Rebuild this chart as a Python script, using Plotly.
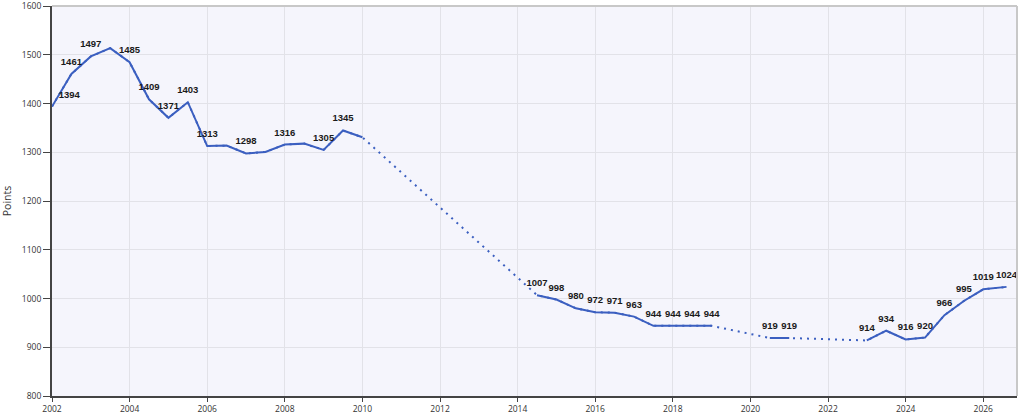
import plotly.graph_objects as go

# --- data (half-year steps, None = no value) ---
years = [2002, 2002.5, 2003, 2003.5, 2004, 2004.5, 2005, 2005.5, 2006, 2006.5,
         2007, 2007.5, 2008, 2008.5, 2009, 2009.5, 2010,
         2010.5, 2011, 2011.5, 2012, 2012.5, 2013, 2013.5, 2014,
         2014.5, 2015, 2015.5, 2016, 2016.5, 2017, 2017.5, 2018, 2018.5, 2019,
         2019.5, 2020,
         2020.5, 2021,
         2021.5, 2022, 2022.5,
         2023, 2023.5, 2024, 2024.5, 2025, 2025.5, 2026, 2026.6]
points = [1394, 1461, 1497, 1514, 1485, 1409, 1371, 1403, 1313, 1314,
          1298, 1301, 1316, 1318, 1305, 1345, 1331,
          None, None, None, None, None, None, None, None,
          1007, 998, 980, 972, 971, 963, 944, 944, 944, 944,
          None, None,
          919, 919,
          None, None, None,
          914, 934, 916, 920, 966, 995, 1019, 1024]
# points whose value label is not shown in the reference
unlabelled = [2003.5, 2006.5, 2007.5, 2008.5, 2010]

tick_years = list(range(2002, 2027, 2))
y_ticks = [800, 900, 1000, 1100, 1200, 1300, 1400, 1500, 1600]

LINE = "#3b5fc0"

labels = []
for yr, v in zip(years, points):
    if v is None or yr in unlabelled:
        labels.append("")
    else:
        labels.append(str(v))
positions = ["top right" if i == 0 else "top center" for i in range(len(years))]

fig = go.Figure()

# dotted bridge over the missing stretches
fig.add_trace(go.Scatter(x=years, y=points, mode="lines", connectgaps=True,
                         line=dict(color=LINE, width=2, dash="2px,5px"),
                         hoverinfo="skip"))
# solid line where there is data (invisible markers only push the labels up)
fig.add_trace(go.Scatter(x=years, y=points, mode="lines+markers+text", connectgaps=False,
                         line=dict(color=LINE, width=2),
                         marker=dict(size=9, opacity=0, color=LINE),
                         text=labels, textposition=positions, cliponaxis=False,
                         textfont=dict(family="Liberation Sans, Arial, sans-serif",
                                       size=9.5, color="#1a1a1a", weight="bold")))

fig.update_layout(
    width=1024, height=416,
    margin=dict(l=52, r=7, t=6, b=20),
    plot_bgcolor="#f5f5fc",
    paper_bgcolor="white",
    showlegend=False,
    font=dict(family="Open Sans, DejaVu Sans, sans-serif", size=8.5, color="#333"),
)

fig.update_xaxes(range=[2002, 2026.87], tickvals=tick_years, ticktext=[str(t) for t in tick_years],
                 showgrid=True, gridcolor="#e2e2e8", gridwidth=1, automargin=False,
                 showline=True, linecolor="#444", linewidth=2,
                 ticks="outside", ticklen=4, tickcolor="#444", zeroline=False)
fig.update_yaxes(range=[800, 1600.5], tickvals=y_ticks, automargin=False,
                 title=dict(text="Points", standoff=10, font=dict(size=10.5)),
                 showgrid=True, gridcolor="#e2e2e8", gridwidth=1,
                 showline=True, linecolor="#444", linewidth=2,
                 ticks="outside", ticklen=7, tickcolor="#444", zeroline=False)

# light gray frame on the top and right sides
fig.add_shape(type="line", xref="paper", yref="paper", x0=0, y0=1, x1=1, y1=1,
              line=dict(color="#c8c8c8", width=2))
fig.add_shape(type="line", xref="paper", yref="paper", x0=1, y0=0, x1=1, y1=1,
              line=dict(color="#c8c8c8", width=2))

fig.write_html("out.html", config={"displayModeBar": False},
               post_script="document.body.style.margin='0';")
